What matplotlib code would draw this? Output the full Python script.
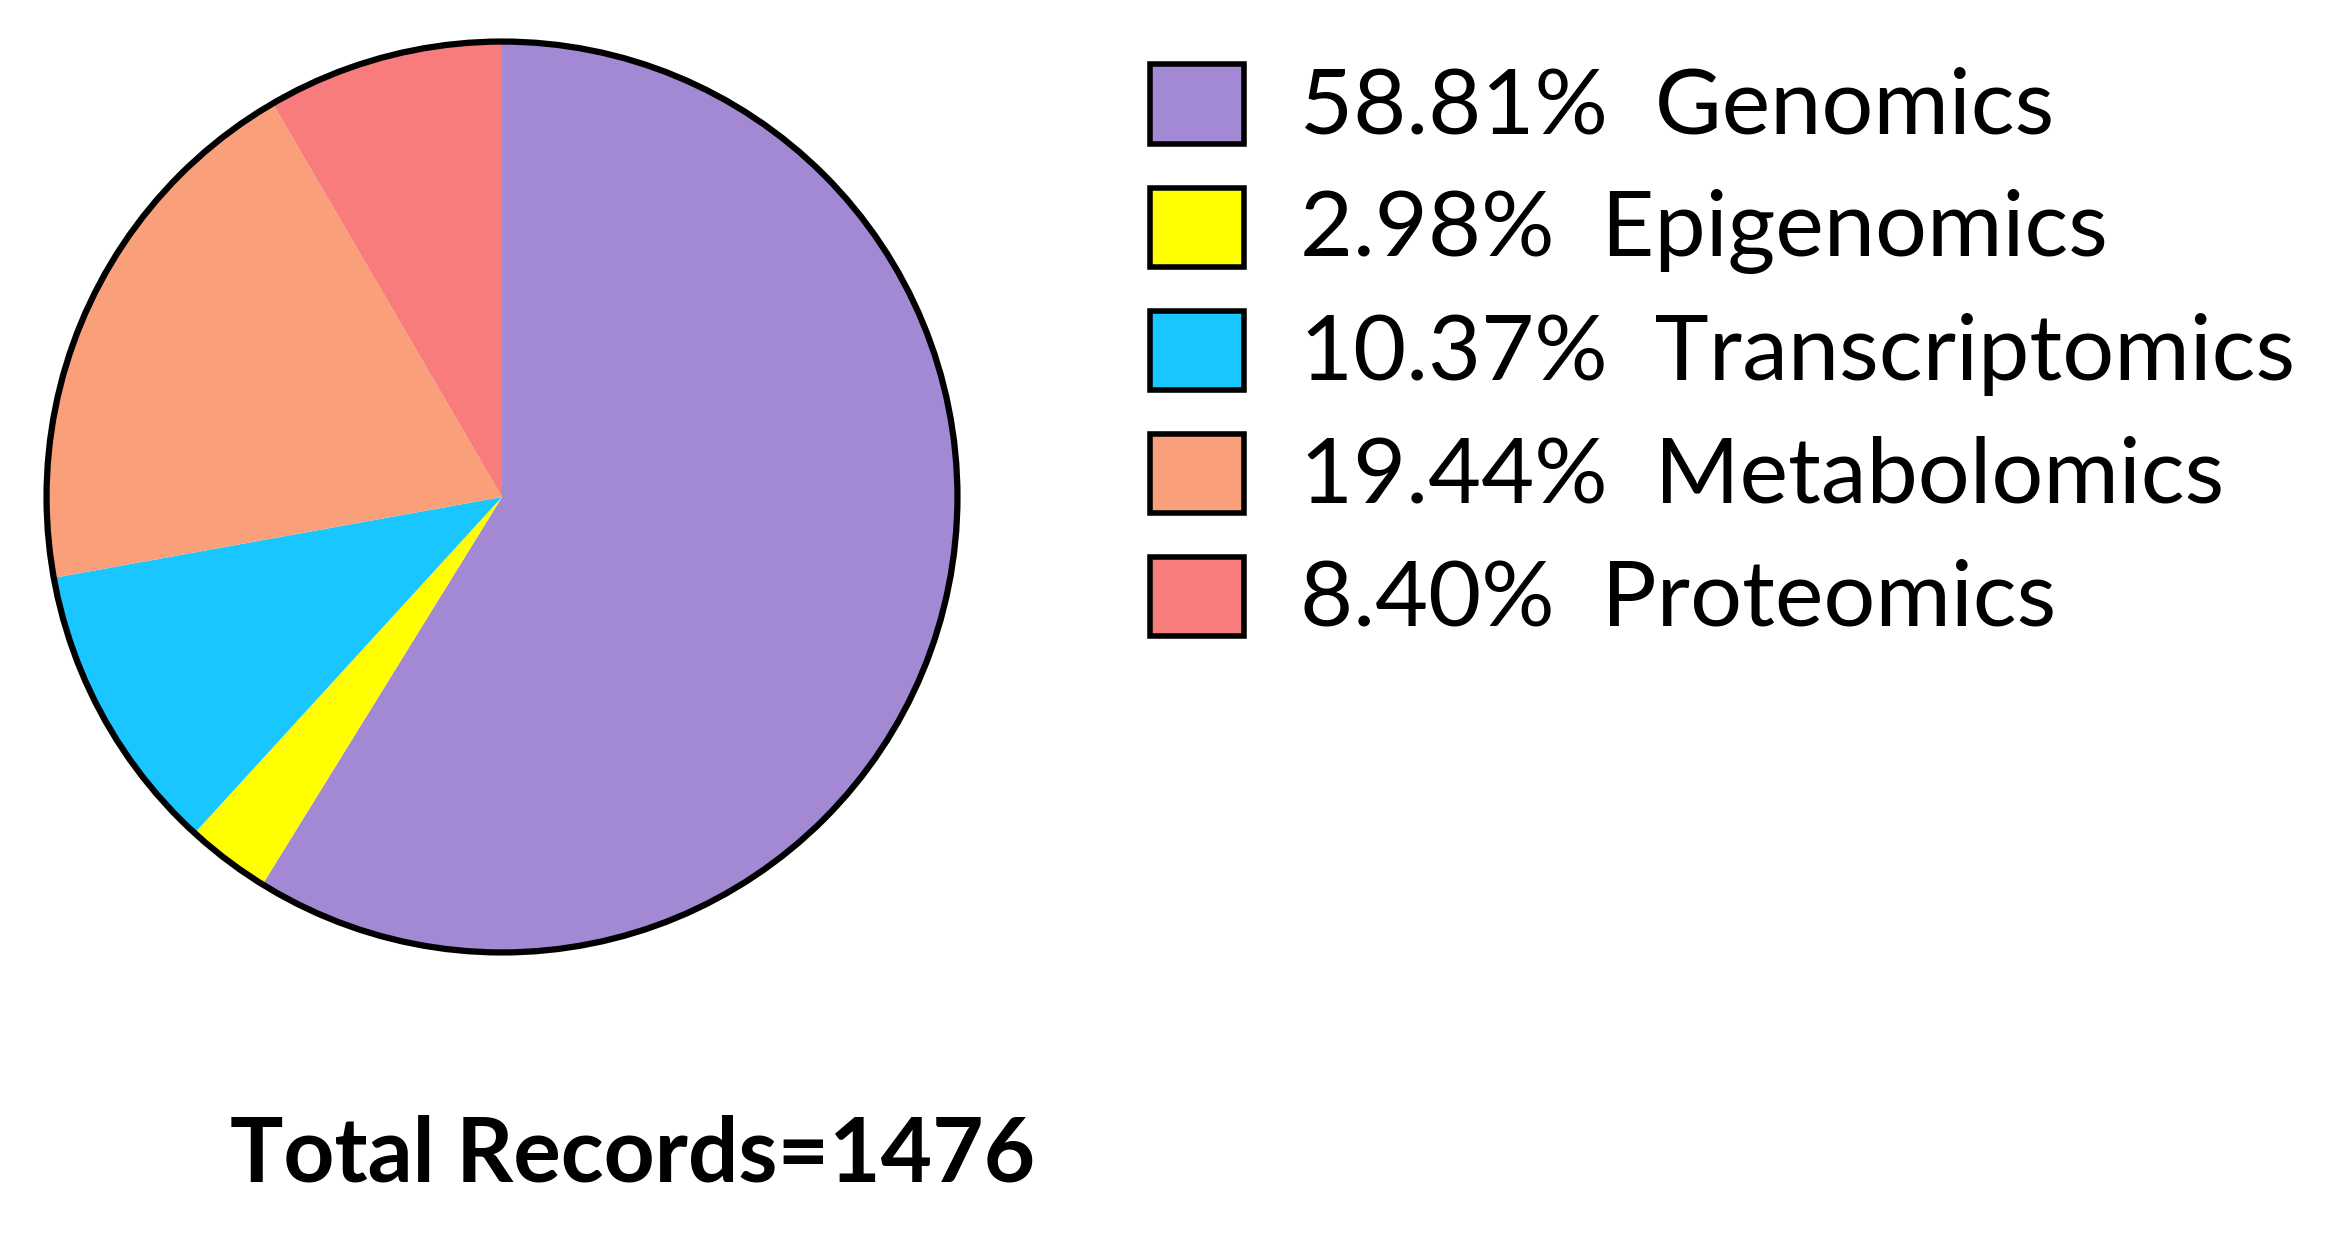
import matplotlib as mpl
mpl.use('Agg')
import matplotlib.pyplot as plt
from matplotlib.patches import Rectangle, Circle

labels = ['Genomics', 'Epigenomics', 'Transcriptomics', 'Metabolomics', 'Proteomics']
shares = [58.81, 2.98, 10.37, 19.44, 8.40]
colors = ['#A389D4', '#FFFF00', '#1AC6FF', '#F9A07A', '#F97C7C']
total_records = 1476

W, H = 2327, 1251
fig = plt.figure(figsize=(W / 100, H / 100), dpi=100)

# pie axes, placed in pixel terms
cx, cy, r = 502, 497, 460
ax = fig.add_axes([(cx - r) / W, (H - cy - r) / H, 2 * r / W, 2 * r / H])
ax.pie(shares, colors=colors, startangle=90, counterclock=False, radius=1,
       wedgeprops=dict(linewidth=0))
ax.add_patch(Circle((0, 0), 1, fill=False, edgecolor='black', linewidth=4.5))
ax.set_xlim(-1.01, 1.01)
ax.set_ylim(-1.01, 1.01)
ax.set_aspect('equal')
ax.axis('off')

# legend drawn by hand
box_x, box_w, box_h = 1150, 94, 79
row_y = 104
row_step = 123
for i, (lab, val, col) in enumerate(zip(labels, shares, colors)):
    yc = row_y + i * row_step
    fig.patches.append(Rectangle(((box_x) / W, (H - yc - box_h / 2) / H),
                                 box_w / W, box_h / H, transform=fig.transFigure,
                                 facecolor=col, edgecolor='black', linewidth=4))
    fig.text(1300 / W, (H - yc - 4) / H, f'{val:.2f}%  {lab}', fontsize=66,
             family='Lato', va='center', ha='left')

fig.text(633 / W, (H - 1155) / H, f'Total Records={total_records}', fontsize=64,
         family='Lato', weight='bold', va='center', ha='center')

plt.savefig('out.png', dpi=100)
